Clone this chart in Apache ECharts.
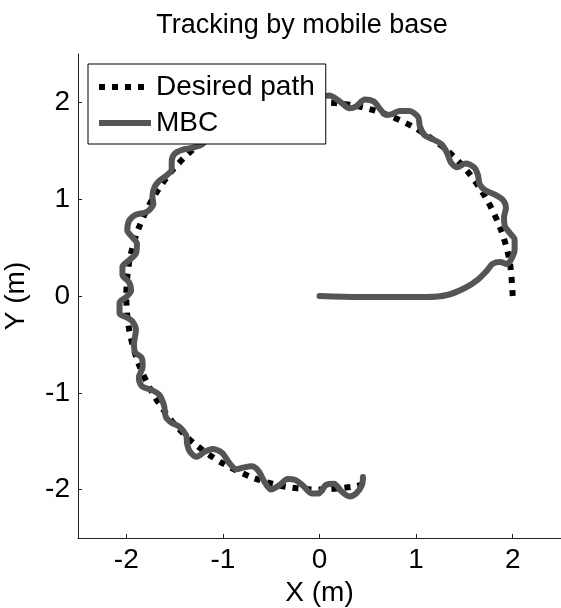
<!DOCTYPE html>
<html><head><meta charset="utf-8">
<script src="https://cdn.jsdelivr.net/npm/echarts@6/dist/echarts.min.js"></script>
<style>html,body{margin:0;padding:0;background:#fff}#c{width:561px;height:608px}</style>
</head><body><div id="c"></div>
<script>
var titleText = 'Tracking by mobile base';
var xName = 'X (m)';
var yName = 'Y (m)';
var tickValues = [-2, -1, 0, 1, 2];
var seriesNames = ['Desired path', 'MBC'];

var desiredX = [2.00, 1.97, 1.88, 1.73, 1.53, 1.29, 1.00, 0.68, 0.35, 0.00, -0.35, -0.68, -1.00, -1.29, -1.53, -1.73, -1.88, -1.97, -2.00, -1.97, -1.88, -1.73, -1.53, -1.29, -1.00, -0.68, -0.35, 0.00, 0.35, 0.48];
var desiredY = [0.00, 0.35, 0.68, 1.00, 1.29, 1.53, 1.73, 1.88, 1.97, 2.00, 1.97, 1.88, 1.73, 1.53, 1.29, 1.00, 0.68, 0.35, 0.00, -0.35, -0.68, -1.00, -1.29, -1.53, -1.73, -1.88, -1.97, -2.00, -1.97, -1.94];

var mbcX = [0, 0.41, 1.11, 1.32, 1.50, 1.64, 1.74, 1.79, 1.87, 1.94, 1.99, 2.02, 2.02, 1.97, 1.92, 1.91, 1.93, 1.90, 1.81, 1.72, 1.66, 1.64, 1.60, 1.51, 1.43, 1.36, 1.32, 1.26, 1.17, 1.09, 1.04, 1.02, 0.93, 0.83, 0.75, 0.69, 0.62, 0.56, 0.47, 0.38, 0.31, 0.21, 0.10,
  0.00, -0.10, -0.21, -0.31, -0.41, -0.52, -0.62, -0.70, -0.81, -0.90, -0.97, -1.08, -1.16, -1.21,
  -1.32, -1.42, -1.50, -1.53, -1.53, -1.59, -1.66, -1.71, -1.73, -1.72, -1.76, -1.81, -1.90, -1.97, -1.99, -1.94, -1.89, -1.90, -1.97, -2.04, -2.04, -1.97, -1.95, -2.00, -2.07, -2.07, -2.00, -1.94, -1.90, -1.92, -1.91, -1.84, -1.83, -1.87, -1.84, -1.74, -1.66, -1.61, -1.59, -1.53, -1.45, -1.38, -1.37, -1.34, -1.27, -1.19, -1.11, -1.01, -0.93, -0.86, -0.78, -0.70, -0.63, -0.57, -0.50, -0.41, -0.33, -0.25, -0.17, -0.08, -0.01, 0.07, 0.15, 0.23, 0.31, 0.38, 0.44, 0.45];
var mbcY = [0, -0.01, -0.01, 0.01, 0.08, 0.17, 0.27, 0.33, 0.35, 0.33, 0.39, 0.48, 0.58, 0.65, 0.72, 0.81, 0.91, 0.99, 1.05, 1.09, 1.15, 1.25, 1.33, 1.37, 1.33, 1.38, 1.48, 1.57, 1.62, 1.66, 1.75, 1.85, 1.91, 1.91, 1.88, 1.87, 1.94, 2.01, 2.03, 1.96, 1.94, 2.01, 2.07,
  2.05, 2.02, 2.06, 2.03, 1.95, 1.99, 1.94, 1.86, 1.87, 1.81, 1.73, 1.71, 1.64, 1.57,
  1.53, 1.51, 1.47, 1.39, 1.31, 1.24, 1.19, 1.12, 1.03, 0.95, 0.89, 0.86, 0.84, 0.78, 0.68, 0.61, 0.54, 0.44, 0.37, 0.30, 0.22, 0.14, 0.06, -0.01, -0.07, -0.18, -0.22, -0.26, -0.35, -0.49, -0.58, -0.64, -0.73, -0.84, -0.93, -0.97, -1.02, -1.13, -1.25, -1.31, -1.35, -1.44, -1.53, -1.61, -1.66, -1.61, -1.58, -1.62, -1.73, -1.79, -1.77, -1.76, -1.81, -1.92, -2.00, -1.95, -1.89, -1.90, -1.96, -2.04, -2.04, -1.95, -1.94, -2.02, -2.07, -2.04, -1.95, -1.87];

function pairs(xs, ys) { return xs.map(function (v, i) { return [v, ys[i]]; }); }

var FONT = '"Liberation Sans", Arial, Helvetica, sans-serif';
var chart = echarts.init(document.getElementById('c'), null, { renderer: 'canvas' });

function axisCommon(name) {
  return {
    type: 'value', min: -2.5, max: 2.5,
    name: name, nameLocation: 'middle',
    nameTextStyle: { fontFamily: FONT, fontSize: 28, color: '#000' },
    splitLine: { show: false },
    axisLine: { show: true, onZero: false, lineStyle: { color: '#222', width: 1 } },
    axisTick: { show: true, inside: true, length: 4, customValues: tickValues, lineStyle: { color: '#222' } },
    axisLabel: { customValues: tickValues, fontFamily: FONT, fontSize: 28, color: '#000', margin: 8 }
  };
}

var xa = axisCommon(xName); xa.nameGap = 40;
var ya = axisCommon(yName); ya.nameGap = 48;

chart.setOption({
  animation: false,
  backgroundColor: '#fff',
  title: { text: titleText, left: 297, textAlign: 'center', top: 7,
    textStyle: { fontFamily: FONT, fontSize: 27, fontWeight: 'normal', color: '#000' } },
  grid: { left: 78, right: 0, top: 54, bottom: 70, containLabel: false, outerBoundsMode: 'none' },
  xAxis: xa,
  yAxis: ya,
  legend: {
    show: true,
    left: 88, top: 64, orient: 'vertical',
    backgroundColor: '#fff', borderColor: '#000', borderWidth: 1,
    padding: [8, 11, 6, 8],
    itemWidth: 52, itemHeight: 14, itemGap: 6,
    textStyle: { fontFamily: FONT, fontSize: 28, color: '#000', lineHeight: 30 },
    lineStyle: { width: 6 },
    data: [
      { name: seriesNames[0], itemStyle: { opacity: 0 }, lineStyle: { width: 6 } },
      { name: seriesNames[1], itemStyle: { opacity: 0 }, lineStyle: { width: 6, cap: 'butt' } }
    ]
  },
  series: [
    { name: seriesNames[0], type: 'line', data: pairs(desiredX, desiredY), showSymbol: false, symbol: 'none',
      smooth: 0.3, lineStyle: { color: '#000', width: 6, type: [6, 7], cap: 'butt' }, itemStyle: { color: '#000' }, z: 2 },
    { name: seriesNames[1], type: 'line', data: pairs(mbcX, mbcY), showSymbol: false, symbol: 'none',
      smooth: 0.3, lineStyle: { color: '#555', width: 6, cap: 'round', join: 'round' }, itemStyle: { color: '#555' }, z: 3 }
  ]
});
</script></body></html>
